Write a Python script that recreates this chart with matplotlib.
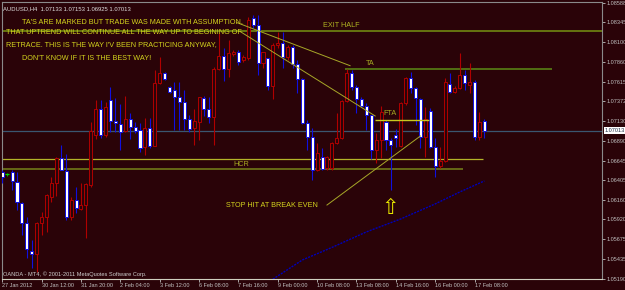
import matplotlib
matplotlib.use("Agg")
import matplotlib.pyplot as plt
import matplotlib.transforms as mtransforms

plt.rcParams['font.family'] = ['Liberation Sans', 'DejaVu Sans']

# AUDUSD H4 candles, bar 0 = 27 Jan 2012
opens = [1.06504, 1.06475, 1.06500, 1.06381, 1.06122, 1.05876, 1.05531, 1.05494, 1.05876, 1.05950,
         1.06196, 1.06368, 1.06676, 1.06516, 1.05950, 1.06159, 1.06048, 1.06097, 1.06344, 1.06959,
         1.07279, 1.06959, 1.07390, 1.07131, 1.07095, 1.07008, 1.07156, 1.07058, 1.07021, 1.06811,
         1.07045, 1.06824, 1.07599, 1.07722, 1.07550, 1.07513, 1.07427, 1.07365, 1.07156, 1.07045,
         1.07119, 1.07415, 1.07279, 1.07181, 1.07772, 1.07932, 1.07772, 1.07956, 1.07981, 1.07882,
         1.07907, 1.08399, 1.08313, 1.07845, 1.07907, 1.07562, 1.08067, 1.08092, 1.07919, 1.08042,
         1.07833, 1.07648, 1.07107, 1.06934, 1.06528, 1.06688, 1.06553, 1.06553, 1.06861, 1.06922,
         1.07377, 1.07722, 1.07550, 1.07402, 1.07316, 1.07205, 1.06774, 1.06897, 1.07119, 1.06897,
         1.06959, 1.06824, 1.07353, 1.07661, 1.07538, 1.07402, 1.06934, 1.07255, 1.06811, 1.06578,
         1.06639, 1.07587, 1.07488, 1.07538, 1.07698, 1.07575, 1.07612, 1.06934, 1.07133]
highs = [1.06528, 1.06491, 1.06528, 1.06504, 1.06134, 1.05950, 1.05667, 1.05888, 1.06011, 1.06233,
         1.06442, 1.06688, 1.06836, 1.06725, 1.06196, 1.06319, 1.06368, 1.06368, 1.07119, 1.07390,
         1.07390, 1.07365, 1.07550, 1.07415, 1.07341, 1.07439, 1.07230, 1.07119, 1.07107, 1.07168,
         1.07168, 1.07759, 1.07919, 1.07735, 1.07562, 1.07612, 1.07612, 1.07513, 1.07205, 1.07279,
         1.07427, 1.07439, 1.07427, 1.07796, 1.08215, 1.08030, 1.08129, 1.08006, 1.08006, 1.07944,
         1.08412, 1.08436, 1.08436, 1.07981, 1.07907, 1.08092, 1.08227, 1.08227, 1.08067, 1.08067,
         1.07882, 1.07661, 1.07144, 1.07045, 1.06861, 1.06799, 1.06701, 1.06873, 1.07230, 1.07390,
         1.07772, 1.07759, 1.07575, 1.07427, 1.07353, 1.07205, 1.06984, 1.07316, 1.07144, 1.06922,
         1.07033, 1.07365, 1.07673, 1.07735, 1.07550, 1.07415, 1.07304, 1.07291, 1.06922, 1.06811,
         1.07661, 1.07722, 1.07562, 1.07969, 1.07759, 1.07845, 1.07636, 1.07242, 1.07153]
lows = [1.06368, 1.06454, 1.06282, 1.06036, 1.05728, 1.05445, 1.05322, 1.05273, 1.05728, 1.05765,
        1.06134, 1.06208, 1.06528, 1.05913, 1.05913, 1.05999, 1.06036, 1.05691, 1.06319, 1.06910,
        1.06922, 1.06934, 1.06996, 1.06996, 1.06774, 1.06996, 1.06910, 1.06984, 1.06750, 1.06713,
        1.06799, 1.06824, 1.07587, 1.07636, 1.07476, 1.07021, 1.07021, 1.07021, 1.06996, 1.06836,
        1.06897, 1.07193, 1.07107, 1.06836, 1.07759, 1.07624, 1.07673, 1.07932, 1.07821, 1.07858,
        1.07882, 1.08276, 1.07698, 1.07784, 1.07513, 1.07402, 1.08030, 1.07784, 1.07882, 1.07784,
        1.07476, 1.07095, 1.06774, 1.06405, 1.06516, 1.06528, 1.06528, 1.06528, 1.06848, 1.06910,
        1.07365, 1.07513, 1.07230, 1.07304, 1.07021, 1.06664, 1.06615, 1.06676, 1.06774, 1.06282,
        1.06811, 1.06811, 1.07328, 1.07476, 1.07082, 1.06799, 1.06688, 1.06799, 1.06442, 1.06553,
        1.06627, 1.07476, 1.07476, 1.07525, 1.07513, 1.07476, 1.06897, 1.06897, 1.06925]
closes = [1.06442, 1.06475, 1.06393, 1.06134, 1.05876, 1.05556, 1.05494, 1.05876, 1.05950, 1.06221,
          1.06368, 1.06676, 1.06528, 1.05950, 1.06159, 1.06061, 1.06097, 1.06356, 1.07008, 1.07279,
          1.06959, 1.07304, 1.07131, 1.07107, 1.06996, 1.07156, 1.07058, 1.07008, 1.06799, 1.07045,
          1.06824, 1.07599, 1.07722, 1.07648, 1.07488, 1.07427, 1.07365, 1.07156, 1.07033, 1.07131,
          1.07427, 1.07279, 1.07181, 1.07772, 1.07932, 1.07772, 1.07969, 1.07981, 1.07858, 1.07919,
          1.08375, 1.08313, 1.07845, 1.07981, 1.07562, 1.08067, 1.08092, 1.07919, 1.08042, 1.07833,
          1.07648, 1.07107, 1.06934, 1.06528, 1.06737, 1.06541, 1.06688, 1.06861, 1.06922, 1.07377,
          1.07722, 1.07550, 1.07402, 1.07316, 1.07205, 1.06774, 1.06897, 1.07242, 1.06897, 1.06836,
          1.06922, 1.07353, 1.07661, 1.07538, 1.07415, 1.06934, 1.07156, 1.06811, 1.06578, 1.06639,
          1.07612, 1.07488, 1.07538, 1.07698, 1.07599, 1.07612, 1.06934, 1.07119, 1.07013]

time_labels = ["27 Jan 2012", "30 Jan 12:00", "31 Jan 20:00", "2 Feb 04:00", "3 Feb 12:00",
               "6 Feb 08:00", "7 Feb 16:00", "9 Feb 00:00", "10 Feb 08:00", "13 Feb 08:00",
               "14 Feb 16:00", "16 Feb 00:00", "17 Feb 08:00"]
price_ticks = [1.05190, 1.05435, 1.05675, 1.05920, 1.06160, 1.06405, 1.06645, 1.06890,
               1.07130, 1.07372, 1.07615, 1.07860, 1.08100, 1.08345, 1.08588]

# blue moving average (bar, price)
ma_bars = [55, 61, 67, 74, 81, 88, 93, 98]
ma_vals = [1.05184, 1.05421, 1.05575, 1.05766, 1.05926, 1.06111, 1.06258, 1.06394]

# horizontal levels
exit_half = 1.08243
ta_level = 1.07772
fta_level = 1.07140
hcr_hi = 1.06660
hcr_lo = 1.06535
last_price = 1.07013

# trend lines (bar, price)
trend_a = [(47.7, 1.08342), (70.7, 1.07812)]
trend_b = [(48.4, 1.08231), (75.8, 1.07193)]
trend_c = [(66.0, 1.06097), (85.0, 1.06947)]

bg = '#2a0308'
up_col = '#b00000'
dn_col = '#1010e0'

fig = plt.figure(figsize=(6.25, 2.9), dpi=100, facecolor=bg)
ax = fig.add_axes([2/625, 10.7/290, 600/625, 277.3/290], facecolor=bg)

n = len(opens)
for i in range(n):
    o, h, l, c = opens[i], highs[i], lows[i], closes[i]
    if o == c:
        ax.vlines(i, l, h, color='#00c000', lw=0.7, zorder=3)
        ax.hlines(o, i - 0.35, i + 0.35, color='#00e000', lw=0.9, zorder=3)
        continue
    col = up_col if c > o else dn_col
    face = bg if c > o else 'white'
    ax.vlines(i, l, h, color=col, lw=0.8, zorder=3)
    ax.bar(i, abs(c - o), bottom=min(o, c), width=0.62, color=face,
           edgecolor=col, linewidth=0.7, zorder=4)

# levels
ax.axhline(exit_half, color='#6b7d10', lw=1.3, zorder=2)
ax.axhline(last_price, color='#3a5670', lw=0.9, zorder=2)
ax.hlines(ta_level, 69.7, 111.8, color='#5c8c16', lw=1.1, zorder=2)
ax.hlines(fta_level, 75.8, 86.8, color='#c8c820', lw=1.0, zorder=5)
ax.hlines(hcr_hi, -1, 97.8, color='#b4b428', lw=0.9, zorder=2)
ax.hlines(hcr_lo, -1, 93.7, color='#707818', lw=1.2, zorder=2)

for tl in (trend_a, trend_b, trend_c):
    ax.plot([p[0] for p in tl], [p[1] for p in tl], color='#a8a828', lw=0.7, zorder=5)

ax.plot(ma_bars, ma_vals, color='#0000b8', lw=1.0, ls=(0, (1.5, 0.8)), zorder=2)

# annotations
txt_col = '#d4d41e'
fs = 5.2
ax.text(4.0, 1.08354, "TA'S ARE MARKED BUT TRADE WAS MADE WITH ASSUMPTION,", color=txt_col,
        fontsize=fs, va='center', zorder=6)
ax.text(0.8, 1.08223, "THAT UPTREND WILL CONTINUE ALL THE WAY UP TO BEGINING OF", color=txt_col,
        fontsize=fs, va='center', zorder=6)
ax.text(0.8, 1.08067, "RETRACE. THIS IS THE WAY I'V BEEN PRACTICING ANYWAY,", color=txt_col,
        fontsize=fs, va='center', zorder=6)
ax.text(4.0, 1.07903, "DON'T KNOW IF IT IS THE BEST WAY!", color=txt_col,
        fontsize=fs, va='center', zorder=6)
ax.text(65.2, 1.08301, "EXIT HALF", color='#b0b422', fontsize=fs, va='center', zorder=6)
ax.text(74.0, 1.07833, "TA", color='#a8ac22', fontsize=fs, va='center', zorder=6)
ax.text(77.4, 1.07226, "FTA", color='#a8ac22', fontsize=fs, va='center', zorder=6)
ax.text(47.0, 1.06602, "HCR", color='#a8ac22', fontsize=fs, va='center', zorder=6)
ax.text(45.5, 1.06097, "STOP HIT AT BREAK EVEN", color=txt_col, fontsize=fs, va='center', zorder=6)
ax.text(78.9, 1.06061, "\u21e7", color='#e8e800', fontsize=15, ha='center', va='center',
        family='DejaVu Sans', zorder=6)

ax.text(0.002, 0.975, "AUDUSD,H4  1.07133 1.07153 1.06925 1.07013", transform=ax.transAxes,
        color='#e0e0e0', fontsize=4.2, va='center')
ax.text(0.002, 0.02, "OANDA - MT4, \u00a9 2001-2011 MetaQuotes Software Corp.", transform=ax.transAxes,
        color='#d0d0d0', fontsize=4.1, va='center')

# current price label
trans = mtransforms.blended_transform_factory(ax.transAxes, ax.transData)
ax.text(1.004, last_price, "1.07013", transform=trans, color='#203048', fontsize=4.0,
        va='center', ha='left', bbox=dict(boxstyle='square,pad=0.15', fc='white', ec='none'),
        clip_on=False, zorder=7)

ax.set_xlim(-0.05, 121.9)
ax.set_ylim(1.05183, 1.08596)

ax.set_xticks(range(0, 8 * len(time_labels), 8))
ax.set_xticklabels(time_labels)
for lab in ax.get_xticklabels():
    lab.set_horizontalalignment('left')
ax.yaxis.tick_right()
ax.set_yticks(price_ticks)
ax.set_yticklabels(["%.5f" % p for p in price_ticks])
ax.tick_params(axis='x', colors='#c0c0c0', labelsize=4.0, length=2, width=0.6, pad=0.8)
ax.tick_params(axis='y', colors='#c0c0c0', labelsize=4.0, length=2, width=0.6, pad=1.0)

for side in ('left', 'top', 'right'):
    ax.spines[side].set_color('#8a8a8a')
    ax.spines[side].set_linewidth(0.8)
ax.spines['bottom'].set_color('#d0d0c0')
ax.spines['bottom'].set_linewidth(0.8)

fig.savefig('out.png', dpi=100, facecolor=bg)
